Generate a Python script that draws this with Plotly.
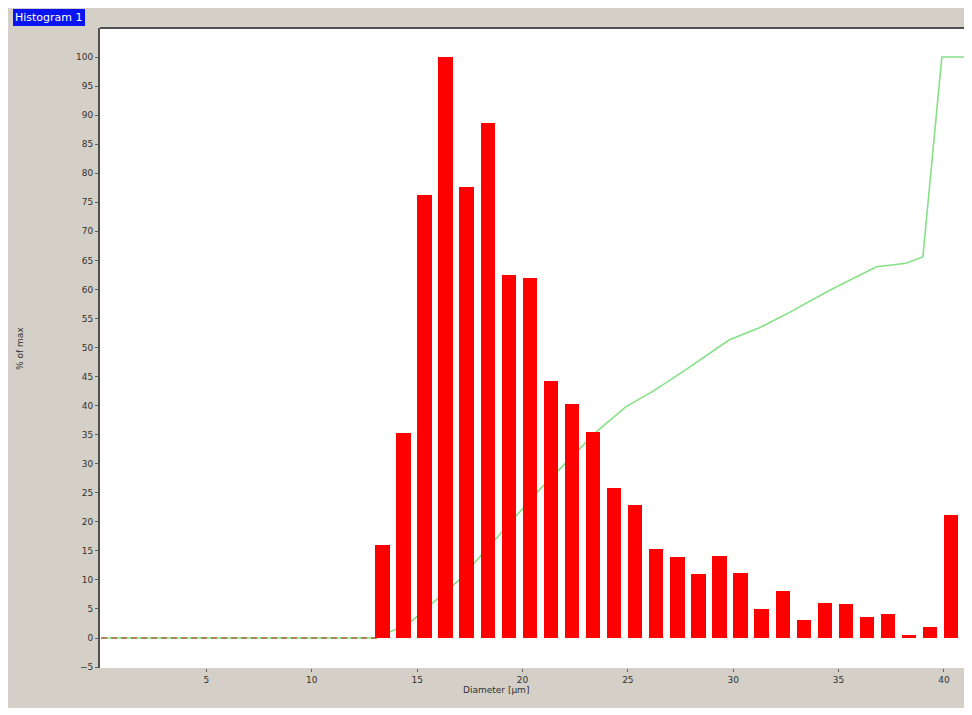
import plotly.graph_objects as go

# Histogram bins (diameter, µm) and heights (% of max)
bin_centers = [13.35, 14.35, 15.35, 16.35, 17.35, 18.35, 19.35, 20.35, 21.35, 22.35,
               23.35, 24.35, 25.35, 26.35, 27.35, 28.35, 29.35, 30.35, 31.35, 32.35,
               33.35, 34.35, 35.35, 36.35, 37.35, 38.35, 39.35, 40.35]
bin_values = [16.0, 35.3, 76.2, 100.0, 77.6, 88.6, 62.5, 62.0, 44.2, 40.3,
              35.5, 25.8, 22.9, 15.3, 13.9, 11.0, 14.1, 11.2, 5.0, 8.1,
              3.1, 6.0, 5.8, 3.6, 4.1, 0.5, 1.9, 21.2]

# Cumulative curve
cum_x = [0, 13.0, 14.0, 14.8, 17.0, 18.8, 20.8, 22.8, 23.6, 24.9, 26.2, 27.6, 28.5,
         29.8, 31.3, 32.7, 34.6, 36.0, 36.8, 38.2, 39.0, 39.9, 41.0]
cum_y = [0, 0, 1.5, 3.1, 10.0, 17.4, 25.5, 32.9, 35.8, 39.8, 42.5, 45.8, 48.0,
         51.3, 53.5, 56.1, 59.9, 62.5, 63.9, 64.5, 65.6, 100.0, 100.0]

# Zero reference line
zero_x = [0, 13.2]
zero_y = [0, 0]

x_ticks = [5, 10, 15, 20, 25, 30, 35, 40]
y_ticks = list(range(-5, 101, 5))
x_range = [-0.05, 41.0]
y_range = [-5.16, 105]

fig = go.Figure()
fig.add_trace(go.Scatter(x=cum_x, y=cum_y, mode="lines",
                         line=dict(color="#86e086", width=1.6), showlegend=False))
fig.add_trace(go.Scatter(x=zero_x, y=zero_y, mode="lines",
                         line=dict(color="#b0643c", width=1.6, dash="6px,4px"), showlegend=False))
# bars on an overlaid axis pair so they are drawn on top of the line
fig.add_trace(go.Bar(x=bin_centers, y=bin_values, width=0.68, xaxis="x2", yaxis="y2",
                     marker=dict(color="#ff0000", line=dict(width=0)), showlegend=False))

font = dict(family="DejaVu Sans", size=9, color="#303030")
fig.update_layout(
    width=962, height=700,
    margin=dict(l=92, r=5, t=20, b=40),
    paper_bgcolor="#d4d0c8", plot_bgcolor="#ffffff",
    bargap=0,
    font=font,
    xaxis=dict(range=x_range, tickvals=x_ticks, showgrid=False, zeroline=False,
               showline=False, ticks="outside", ticklen=3, tickcolor="#606060",
               tickfont=font),
    yaxis=dict(range=y_range, tickvals=y_ticks, showgrid=False, zeroline=False,
               showline=True, linecolor="#505050", linewidth=2,
               ticks="outside", ticklen=3, tickcolor="#606060", tickfont=font),
    xaxis2=dict(range=x_range, overlaying="x", visible=False, showgrid=False, zeroline=False),
    yaxis2=dict(range=y_range, overlaying="y", visible=False, showgrid=False, zeroline=False),
    shapes=[
        dict(type="line", xref="paper", yref="paper", x0=0, x1=1, y0=1, y1=1,
             line=dict(color="#505050", width=2)),
    ],
    annotations=[
        dict(text="Histogram 1", xref="paper", yref="paper", x=-0.1006, y=1.03,
             xanchor="left", yanchor="top", showarrow=False, bgcolor="#0a14f0",
             bordercolor="#0a14f0", borderpad=1,
             font=dict(family="DejaVu Sans", size=11, color="#ffffff")),
        dict(text="Diameter [µm]", xref="x", yref="paper", x=18.75, y=-0.024,
             xanchor="center", yanchor="top", showarrow=False, font=font),
        dict(text="% of max", xref="paper", yref="paper", x=-0.0925, y=0.5,
             xanchor="center", yanchor="middle", textangle=-90, showarrow=False, font=font),
    ],
)

fig.write_html("out.html")
